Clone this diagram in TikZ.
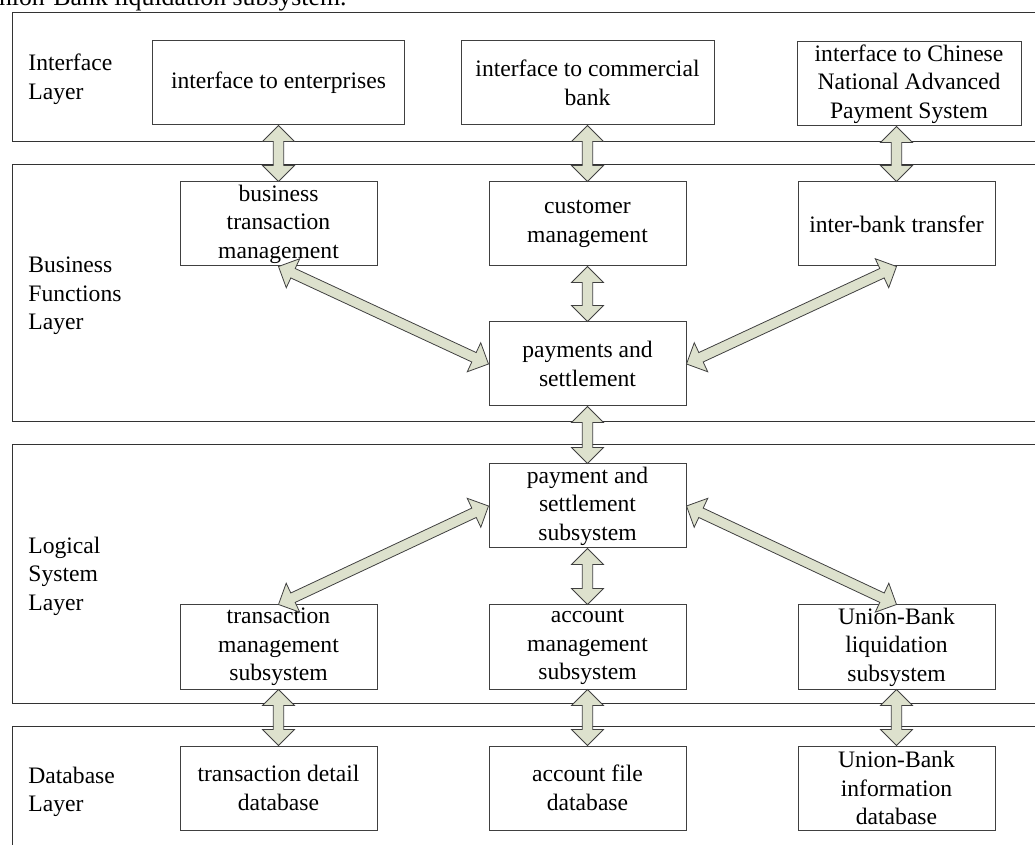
\documentclass[tikz,border=0pt]{standalone}
\usepackage{fontspec}
\setmainfont{Liberation Serif}
\usetikzlibrary{positioning,calc}
\definecolor{arrfill}{RGB}{221,225,205}
\newcommand{\arrhead}{8pt}
\newcommand{\arrhalf}{8pt}
\newcommand{\arrshaft}{2.6pt}
\tikzset{
  box/.style    = {rectangle, draw=black!75, line width=0.5pt, align=center,
                   minimum width=98.5pt, minimum height=42pt, inner xsep=2pt,
                   inner ysep=0pt, font=\fontsize{11.8}{14.3}\selectfont},
  layer/.style  = {draw=black!80, line width=0.5pt},
  lbl/.style    = {anchor=west, align=left, inner sep=0pt,
                   font=\fontsize{11.8}{14.3}\selectfont},
  fatarr/.style = {draw=black!75, line width=0.4pt, fill=arrfill, line join=miter},
}
% double block arrow between two points
\newcommand{\fatarrow}[2]{%
  \draw[fatarr] (#1)
    -- ($(#1)!\arrhead!(#2)!\arrhalf!90:(#2)$)
    -- ($(#1)!\arrhead!(#2)!\arrshaft!90:(#2)$)
    -- ($(#2)!\arrhead!(#1)!\arrshaft!-90:(#1)$)
    -- ($(#2)!\arrhead!(#1)!\arrhalf!-90:(#1)$)
    -- (#2)
    -- ($(#2)!\arrhead!(#1)!\arrhalf!90:(#1)$)
    -- ($(#2)!\arrhead!(#1)!\arrshaft!90:(#1)$)
    -- ($(#1)!\arrhead!(#2)!\arrshaft!-90:(#2)$)
    -- ($(#1)!\arrhead!(#2)!\arrhalf!-90:(#2)$)
    -- cycle;}

\begin{document}
\begin{tikzpicture}[x=0.5pt, y=-0.5pt]
  \useasboundingbox (0,0) rectangle (1035,845);
  \node[inner sep=0pt, anchor=base east, font=\fontsize{12.9}{15}\selectfont] (cap) at (347,6) {Union-Bank liquidation subsystem.};

  % layers
  \draw[layer] (1050,13) -- (12,13) -- (12,142) -- (1050,142);
  \draw[layer] (1050,165) -- (12,165) -- (12,422) -- (1050,422);
  \draw[layer] (1050,445) -- (12,445) -- (12,703) -- (1050,703);
  \draw[layer] (1050,726) -- (12,726) -- (12,870);
  \node[lbl] (lint) at (28,79) {Interface\\Layer};
  \node[lbl] (lbus) at (28,296) {Business\\Functions\\Layer};
  \node[lbl] (llog) at (28,576) {Logical\\System\\Layer};
  \node[lbl] (ldb)  at (28,792) {Database\\Layer};

  % business functions
  \node[box] (bt) at (278.5,224) {business\\transaction\\management};
  \node[box, right=55.5pt of bt] (cm) {customer\\management};
  \node[box, right=55.5pt of cm] (ib) {inter-bank transfer};
  \node[box, below=27.5pt of cm] (pay) {payments and\\settlement};

  % interfaces
  \node[box, above=28pt of bt, minimum width=126pt] (io1) {interface to enterprises};
  \node[box, above=28pt of cm, minimum width=126.5pt] (io2) {interface to commercial\\bank};
  \node[box, minimum width=112pt] (io3) at (909,84) {interface to Chinese\\National Advanced\\Payment System};
  \coordinate (io3b) at (ib.north |- io3.south);

  % logical system
  \node[box, below=28.5pt of pay] (pss) {payment and\\settlement\\subsystem};
  \node[box, below=28pt of pss] (am) {account\\management\\subsystem};
  \node[box, left=55.5pt of am] (tms) {transaction\\management\\subsystem};
  \node[box, right=55.5pt of am] (ubl) {Union-Bank\\liquidation\\subsystem};

  % database
  \node[box, below=28pt of tms] (tdd) {transaction detail\\database};
  \node[box, below=28pt of am] (afd) {account file\\database};
  \node[box, below=28pt of ubl] (ubi) {Union-Bank\\information\\database};

  \fatarrow{io1.south}{bt.north}
  \fatarrow{io2.south}{cm.north}
  \fatarrow{io3b}{ib.north}
  \fatarrow{cm.south}{pay.north}
  \fatarrow{bt.south}{pay.west}
  \fatarrow{pay.east}{ib.south}
  \fatarrow{pay.south}{pss.north}
  \fatarrow{pss.west}{tms.north}
  \fatarrow{pss.east}{ubl.north}
  \fatarrow{pss.south}{am.north}
  \fatarrow{tms.south}{tdd.north}
  \fatarrow{am.south}{afd.north}
  \fatarrow{ubl.south}{ubi.north}
\end{tikzpicture}
\end{document}
